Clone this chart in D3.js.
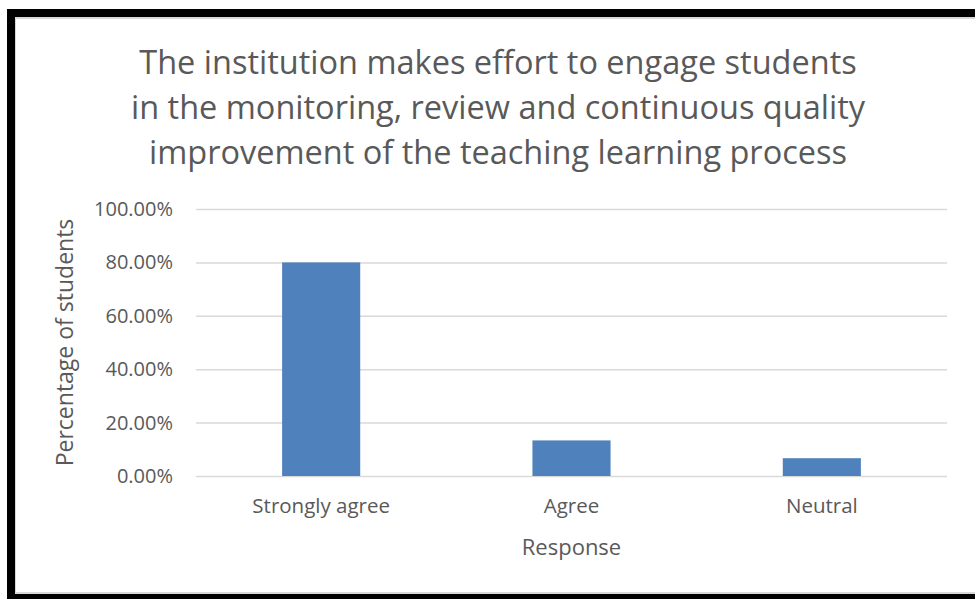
<!DOCTYPE html>
<html>
<head>
<meta charset="utf-8">
<script src="https://cdn.jsdelivr.net/npm/d3@7"></script>
<style>
  body { margin: 0; background: #fff; }
  svg { display: block; }
  text { font-family: "Open Sans", sans-serif; fill: #595959; }
</style>
</head>
<body>
<div id="chart"></div>
<script>
// Chart data
var categories = ["Strongly agree", "Agree", "Neutral"];
var percentages = [0.80, 0.1333, 0.0667];
var yTicks = [0, 0.2, 0.4, 0.6, 0.8, 1.0];
var titleLines = [
  "The institution makes effort to engage students",
  "in the monitoring, review and continuous quality",
  "improvement of the teaching learning process"
];

var svgWidth = 975;
var svgHeight = 599;

var margin = { top: 209, right: 28, bottom: 123, left: 196 };
var width = svgWidth - margin.left - margin.right;
var height = svgHeight - margin.top - margin.bottom;

var svg = d3.select("#chart")
  .append("svg")
  .attr("width", svgWidth)
  .attr("height", svgHeight);

// frame: thick black edges with a light inner line
svg.append("rect").attr("x", 7).attr("y", 9).attr("width", 968).attr("height", 8).attr("fill", "#000");
svg.append("rect").attr("x", 7).attr("y", 9).attr("width", 8).attr("height", 590).attr("fill", "#000");
svg.append("rect").attr("x", 7).attr("y", 594).attr("width", 968).attr("height", 5).attr("fill", "#000");
svg.append("rect").attr("x", 15).attr("y", 17).attr("width", 960).attr("height", 2).attr("fill", "#d9d9d9");
svg.append("rect").attr("x", 15).attr("y", 17).attr("width", 1).attr("height", 577).attr("fill", "#d9d9d9");
svg.append("rect").attr("x", 15).attr("y", 592).attr("width", 960).attr("height", 2).attr("fill", "#d9d9d9");

var chartGroup = svg.append("g")
  .attr("transform", `translate(${margin.left}, ${margin.top})`);

// scales
var xScale = d3.scaleBand()
  .domain(categories)
  .range([0, width])
  .paddingInner(0.688)
  .paddingOuter(0.344);

var yScale = d3.scaleLinear()
  .domain([0, 1])
  .range([height, 0]);

// gridlines
chartGroup.append("g")
  .call(d3.axisLeft(yScale).tickValues(yTicks).tickSize(-width).tickFormat(""))
  .call(g => g.select(".domain").remove())
  .selectAll("line")
  .attr("stroke", "#d9d9d9")
  .attr("stroke-width", 1.5);

// y axis labels
var leftAxis = chartGroup.append("g")
  .attr("transform", "translate(-20, 0)")
  .call(d3.axisLeft(yScale).tickValues(yTicks).tickSize(0).tickFormat(d3.format(".2%")));
leftAxis.select(".domain").remove();
leftAxis.selectAll("text")
  .style("font-size", "20px")
  .style("fill", "#595959")
  .style("font-family", "'Open Sans', sans-serif");

// bars
chartGroup.selectAll("rect.bar")
  .data(percentages)
  .enter()
  .append("rect")
  .attr("class", "bar")
  .attr("x", (d, i) => xScale(categories[i]))
  .attr("y", d => yScale(d))
  .attr("width", xScale.bandwidth())
  .attr("height", d => height - yScale(d))
  .attr("fill", "#4f81bd");

// x axis labels
var bottomAxis = chartGroup.append("g")
  .attr("transform", `translate(0, ${height})`)
  .call(d3.axisBottom(xScale).tickSize(0).tickPadding(22));
bottomAxis.select(".domain").remove();
bottomAxis.selectAll("text")
  .style("font-size", "20.5px")
  .style("fill", "#595959")
  .style("font-family", "'Open Sans', sans-serif");

// axis titles
chartGroup.append("text")
  .attr("x", width / 2)
  .attr("y", height + 79)
  .attr("text-anchor", "middle")
  .style("font-size", "22px")
  .text("Response");

chartGroup.append("text")
  .attr("transform", "rotate(-90)")
  .attr("x", -(height / 2))
  .attr("y", -123)
  .attr("text-anchor", "middle")
  .style("font-size", "23px")
  .text("Percentage of students");

// title
svg.append("g").selectAll("text")
  .data(titleLines)
  .enter()
  .append("text")
  .attr("x", 498)
  .attr("y", (d, i) => 74 + i * 45)
  .attr("text-anchor", "middle")
  .style("font-size", "32.5px")
  .text(d => d);
</script>
</body>
</html>
